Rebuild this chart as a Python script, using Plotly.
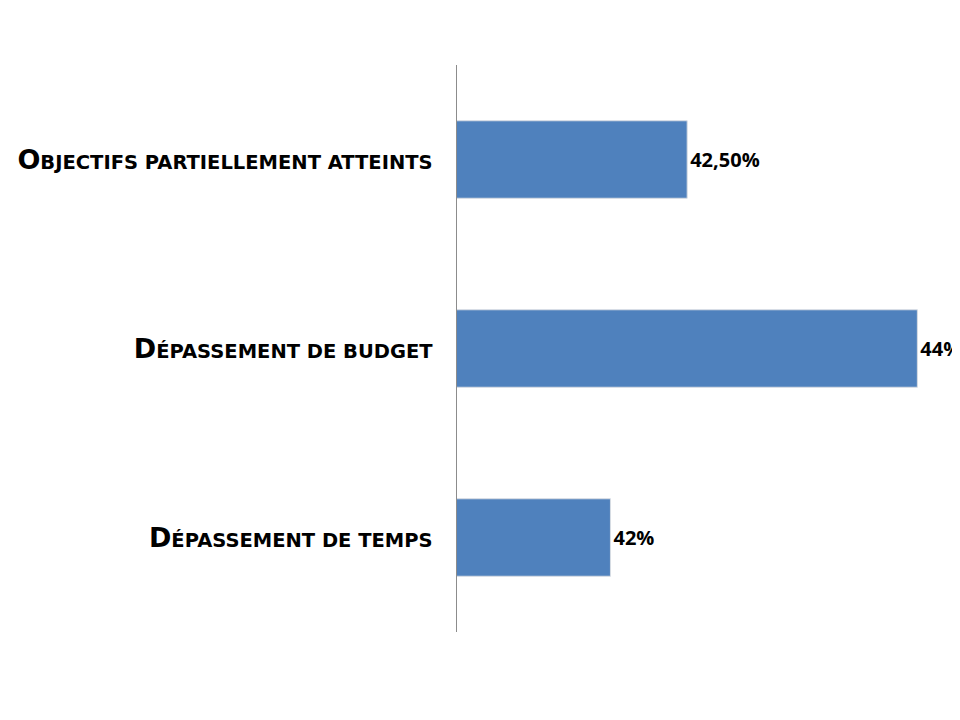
import plotly.graph_objects as go

# bottom to top
categories = ["Dépassement de temps", "Dépassement de budget", "Objectifs partiellement atteints"]
values = [42.0, 44.0, 42.5]
value_labels = ["42%", "44%", "42,50%"]


def small_caps(s, small=19.5):
    # emulate small caps: first letter full size, rest smaller uppercase
    return s[0].upper() + "<span style='font-size:%spx'>%s</span>" % (small, s[1:].upper())


tick_text = [small_caps(c) for c in categories]

fig = go.Figure()
fig.add_trace(go.Bar(
    y=categories, x=values, orientation="h",
    base=0,
    marker=dict(color="#4F81BD", line=dict(color="#D9DDE3", width=1)),
    text=value_labels, textposition="outside", cliponaxis=False,
    constraintext="none",
    textfont=dict(family="Open Sans", size=20, color="#000000", weight="bold"),
    width=0.41,
))

fig.update_layout(
    width=960, height=720,
    paper_bgcolor="white", plot_bgcolor="white",
    margin=dict(l=449, r=0, t=57, b=96),
    showlegend=False,
    font=dict(family="DejaVu Sans", color="#000000"),
)
fig.update_xaxes(range=[41, 44.33], visible=False, showgrid=False, automargin=False)
fig.update_yaxes(
    tickmode="array", tickvals=categories, ticktext=tick_text,
    tickfont=dict(family="DejaVu Sans", size=27, color="#000000", weight="bold"),
    showline=True, linecolor="#8C8C8C", linewidth=1,
    showgrid=False, ticks="", ticklabelstandoff=18, automargin=False,
)

fig.write_html("out.html")
